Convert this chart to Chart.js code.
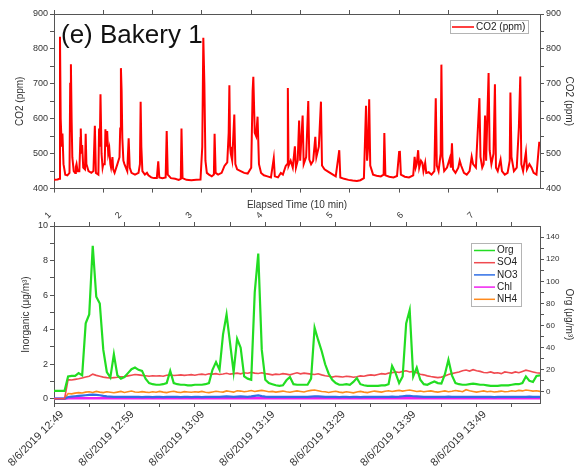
<!DOCTYPE html>
<html>
<head>
<meta charset="utf-8">
<script src="https://cdn.jsdelivr.net/npm/chart.js@4.4.1/dist/chart.umd.min.js"></script>
<style>
  html, body { margin: 0; padding: 0; background: #fff; }
  #wrap { position: relative; width: 576px; height: 472px; overflow: hidden; }
  canvas { position: absolute; left: 0; }
  #co2Chart { top: 0; }
  #aerosolChart { top: 196px; }
</style>
</head>
<body>
<div id="wrap">
  <canvas id="co2Chart" width="576" height="196"></canvas>
  <canvas id="aerosolChart" width="576" height="276"></canvas>
</div>
<script>
// CO2 trace: minutes after 12:49 and concentration (ppm)
const co2Minutes = [
  0, 0.5, 0.75, 0.85, 0.95, 1.1, 1.2, 1.35, 1.6, 1.9,
  2.2, 2.3, 2.4, 2.5, 2.6, 2.8, 3.0, 3.1, 3.2, 3.35,
  3.6, 3.75, 3.8, 3.9, 4.0, 4.15, 4.4, 4.5, 4.6, 4.9,
  5.3, 5.6, 5.8, 5.95, 6.3, 6.4, 6.5, 6.6, 6.75, 6.9,
  7.0, 7.2, 7.3, 7.4, 7.55, 7.7, 7.85, 8.0, 8.1, 8.3,
  8.4, 8.6, 9.0, 9.3, 9.4, 9.5, 9.6, 9.7, 9.85, 10.0,
  10.2, 10.4, 10.6, 10.75, 11.0, 11.5, 12.0, 12.2, 12.3, 12.4,
  12.55, 12.9, 13.2, 13.4, 13.8, 14.2, 14.6, 14.8, 14.95, 15.4,
  15.85, 16.0, 16.15, 16.6, 17.2, 17.7, 18.0, 18.1, 18.25, 18.8,
  19.5, 20.2, 20.8, 21.05, 21.2, 21.35, 21.5, 21.7, 22.0, 22.4,
  22.7, 22.8, 22.95, 23.3, 23.8, 24.2, 24.4, 24.6, 24.8, 24.9,
  25.0, 25.1, 25.3, 25.6, 25.75, 26.0, 26.5, 27.0, 27.5, 28.0,
  28.2, 28.3, 28.5, 28.7, 28.9, 29.1, 29.4, 29.8, 30.3, 30.8,
  31.2, 31.35, 31.8, 32.2, 32.5, 32.9, 33.1, 33.2, 33.3, 33.6,
  33.9, 34.2, 34.35, 34.6, 34.8, 34.95, 35.3, 35.45, 35.8, 36.1,
  36.25, 36.5, 36.8, 37.1, 37.25, 37.6, 37.9, 38.05, 38.4, 38.8,
  39.2, 39.6, 40.0, 40.5, 40.65, 41.2, 41.8, 42.4, 43.0, 43.5,
  44.0, 44.3, 44.45, 44.6, 44.75, 44.9, 45.3, 45.8, 46.4, 46.8,
  46.9, 47.05, 47.6, 48.2, 48.7, 49.0, 49.1, 49.25, 49.8, 50.4,
  51.0, 51.2, 51.35, 51.5, 51.7, 51.85, 52.1, 52.3, 52.45, 52.7,
  52.85, 53.2, 53.6, 54.0, 54.2, 54.35, 54.6, 54.9, 55.0, 55.15,
  55.4, 55.8, 56.2, 56.35, 56.5, 56.65, 57.0, 57.4, 57.6, 57.8,
  58.2, 58.6, 59.0, 59.3, 59.5, 59.9, 60.2, 60.4, 60.55, 60.8,
  61.0, 61.2, 61.35, 61.7, 61.85, 62.1, 62.4, 62.6, 62.75, 63.0,
  63.4, 63.6, 64.0, 64.4, 64.7, 64.8, 64.95, 65.3, 65.7, 66.0,
  66.2, 66.35, 66.6, 67.0, 67.15, 67.5, 67.8, 68.1, 68.5, 68.9
];
const co2Ppm = [
  425, 426, 428, 835, 600, 520, 558, 470, 440, 438,
  445, 700, 756, 600, 490, 450, 445, 462, 470, 450,
  450, 545, 572, 500, 525, 460, 455, 557, 470, 450,
  445, 450, 580, 445, 440, 572, 520, 670, 500, 460,
  470, 470, 570, 520, 565, 500, 515, 470, 460, 490,
  455, 445, 470, 490, 572, 745, 680, 545, 480, 470,
  460, 450, 544, 460, 445, 440, 445, 470, 649, 520,
  450, 440, 445, 438, 432, 430, 430, 478, 432, 430,
  432, 565, 440, 430, 428, 425, 428, 572, 430, 425,
  424, 425, 426, 520, 832, 700, 480, 445, 440, 435,
  440, 557, 445, 440, 445, 465, 470, 475, 560, 696,
  520, 500, 480, 612, 470, 455, 450, 445, 443, 460,
  680, 720, 560, 550, 606, 470, 445, 438, 435, 432,
  487, 435, 432, 445, 440, 465, 470, 688, 465, 480,
  460, 521, 460, 480, 595, 480, 609, 470, 490, 651,
  483, 470, 480, 548, 490, 520, 649, 466, 455, 450,
  445, 440, 435, 510, 432, 428, 425, 423, 422, 424,
  430, 637, 480, 520, 656, 466, 440, 437, 435, 440,
  559, 438, 434, 432, 436, 505, 508, 440, 434, 432,
  438, 491, 460, 470, 510, 460, 480, 474, 450, 474,
  445, 447, 440, 450, 659, 466, 450, 500, 755, 491,
  450, 460, 487, 460, 530, 455, 445, 460, 480, 466,
  445, 440, 450, 491, 470, 460, 580, 659, 491, 460,
  470, 609, 480, 731, 510, 470, 500, 699, 460, 450,
  483, 450, 440, 445, 480, 675, 491, 450, 460, 575,
  721, 470, 450, 505, 455, 470, 460, 445, 440, 534
];

// aerosol species, one value every 30 s from 12:49 (each row = 5 min)
const sampleStep = 0.5;
const orgValues = [
  1, 1, 1, 1, 14, 14.5, 14.5, 17, 15, 62,
  70, 132, 86, 80, 38, 18, 13, 34, 15, 12,
  13.5, 17, 20.5, 22, 20, 19, 12, 8, 7, 6.5,
  6.5, 7, 8, 19, 8, 7, 6.5, 6.5, 6, 6,
  6.5, 6.5, 6.5, 7, 8, 20, 27, 20, 52, 70,
  44, 18, 48, 40, 14, 12, 11, 90, 125, 38,
  11, 8, 7, 6, 5.5, 6, 10.5, 13.5, 7, 6.5,
  6.5, 6.5, 6.5, 12, 58, 47, 37, 25, 16.5, 11,
  8, 6.5, 6.5, 7, 6.5, 9, 12.5, 7, 6, 5.5,
  5.5, 5.5, 5.5, 6, 6, 7, 23.5, 17, 8, 14,
  62, 74, 14, 22, 11, 7, 6.5, 8, 9.5, 8,
  7.5, 16, 29, 15, 8, 7, 6.5, 6.5, 7, 7.5,
  7, 6.5, 6.5, 6, 5.5, 5.5, 5.5, 6, 6, 6,
  6.5, 7, 7, 8, 14, 10, 9, 14.5, 15, 15
];
const so4Values = [
  0, 0, 0, 0, 1.1, 1.08, 1.12, 1.15, 1.2, 1.25,
  1.3, 1.42, 1.35, 1.3, 1.25, 1.22, 1.2, 1.22, 1.24, 1.27,
  1.28, 1.32, 1.36, 1.4, 1.38, 1.35, 1.33, 1.3, 1.33, 1.31,
  1.33, 1.3, 1.36, 1.38, 1.34, 1.36, 1.38, 1.35, 1.37, 1.39,
  1.36, 1.4, 1.42, 1.39, 1.44, 1.42, 1.45, 1.4, 1.43, 1.47,
  1.42, 1.45, 1.48, 1.44, 1.5, 1.47, 1.52, 1.48, 1.46, 1.5,
  1.45, 1.42, 1.38, 1.42, 1.4, 1.45, 1.42, 1.38, 1.45, 1.5,
  1.44, 1.48, 1.45, 1.42, 1.4, 1.44, 1.38, 1.33, 1.3, 1.25,
  1.3, 1.28, 1.26, 1.3, 1.28, 1.24, 1.27, 1.32, 1.3, 1.35,
  1.38, 1.35, 1.4, 1.45, 1.42, 1.48, 1.5, 1.55, 1.52, 1.58,
  1.62, 1.55, 1.58, 1.5, 1.42, 1.38, 1.32, 1.28, 1.25, 1.22,
  1.25, 1.32, 1.4, 1.45, 1.5, 1.55, 1.62, 1.66, 1.6, 1.68,
  1.62, 1.58, 1.52, 1.5, 1.55, 1.48, 1.5, 1.45, 1.55, 1.52,
  1.48, 1.55, 1.5, 1.58, 1.65, 1.6, 1.55, 1.5, 1.48, 1.45
];
const no3Values = [
  0, 0, 0, 0, 0.1, 0.12, 0.14, 0.16, 0.18, 0.2,
  0.22, 0.24, 0.22, 0.2, 0.16, 0.13, 0.12, 0.11, 0.1, 0.1,
  0.11, 0.1, 0.1, 0.11, 0.1, 0.09, 0.1, 0.1, 0.09, 0.1,
  0.1, 0.09, 0.1, 0.11, 0.1, 0.1, 0.09, 0.1, 0.1, 0.09,
  0.1, 0.1, 0.09, 0.1, 0.11, 0.1, 0.1, 0.11, 0.12, 0.13,
  0.12, 0.11, 0.12, 0.13, 0.12, 0.11, 0.13, 0.16, 0.19, 0.15,
  0.12, 0.11, 0.1, 0.1, 0.11, 0.1, 0.1, 0.11, 0.1, 0.1,
  0.1, 0.11, 0.1, 0.12, 0.14, 0.13, 0.12, 0.11, 0.1, 0.1,
  0.1, 0.09, 0.1, 0.1, 0.09, 0.1, 0.1, 0.09, 0.1, 0.1,
  0.1, 0.1, 0.11, 0.1, 0.1, 0.11, 0.12, 0.11, 0.12, 0.14,
  0.16, 0.17, 0.14, 0.13, 0.12, 0.11, 0.1, 0.11, 0.1, 0.1,
  0.1, 0.11, 0.12, 0.11, 0.1, 0.1, 0.11, 0.1, 0.1, 0.11,
  0.1, 0.1, 0.11, 0.1, 0.1, 0.09, 0.1, 0.1, 0.11, 0.1,
  0.1, 0.11, 0.1, 0.1, 0.11, 0.12, 0.11, 0.1, 0.1, 0.1
];
const chlValues = [
  0, 0, 0, 0, 0.02, 0.02, 0.03, 0.03, 0.02, 0.03,
  0.03, 0.02, 0.02, 0.03, 0.02, 0.02, 0.03, 0.02, 0.02, 0.03,
  0.02, 0.02, 0.03, 0.02, 0.02, 0.02, 0.03, 0.02, 0.02, 0.02,
  0.02, 0.03, 0.02, 0.02, 0.02, 0.03, 0.02, 0.02, 0.03, 0.02,
  0.02, 0.02, 0.02, 0.03, 0.02, 0.02, 0.02, 0.03, 0.02, 0.02,
  0.03, 0.02, 0.02, 0.02, 0.03, 0.02, 0.02, 0.03, 0.03, 0.02,
  0.02, 0.02, 0.03, 0.02, 0.02, 0.02, 0.02, 0.03, 0.02, 0.02,
  0.02, 0.03, 0.02, 0.02, 0.03, 0.02, 0.02, 0.02, 0.03, 0.02,
  0.02, 0.02, 0.02, 0.03, 0.02, 0.02, 0.03, 0.02, 0.02, 0.02,
  0.03, 0.02, 0.02, 0.02, 0.02, 0.03, 0.02, 0.02, 0.03, 0.02,
  0.03, 0.03, 0.02, 0.02, 0.02, 0.03, 0.02, 0.02, 0.02, 0.02,
  0.02, 0.03, 0.02, 0.02, 0.03, 0.02, 0.02, 0.02, 0.03, 0.02,
  0.02, 0.02, 0.03, 0.02, 0.02, 0.02, 0.03, 0.02, 0.02, 0.03,
  0.02, 0.02, 0.02, 0.03, 0.02, 0.02, 0.03, 0.02, 0.02, 0.02
];
const nh4Values = [
  0, 0, 0, 0, 0.3, 0.28, 0.32, 0.35, 0.33, 0.38,
  0.4, 0.36, 0.42, 0.38, 0.35, 0.4, 0.37, 0.34, 0.38, 0.42,
  0.36, 0.4, 0.44, 0.39, 0.37, 0.41, 0.38, 0.36, 0.4, 0.37,
  0.42, 0.38, 0.35, 0.4, 0.43, 0.38, 0.36, 0.41, 0.39, 0.37,
  0.4, 0.38, 0.42, 0.37, 0.35, 0.39, 0.43, 0.4, 0.38, 0.45,
  0.42, 0.38, 0.46, 0.44, 0.4, 0.43, 0.47, 0.42, 0.45, 0.48,
  0.44, 0.4, 0.42, 0.38, 0.41, 0.44, 0.4, 0.37, 0.42, 0.45,
  0.42, 0.39, 0.44, 0.48, 0.5, 0.46, 0.42, 0.4, 0.36, 0.4,
  0.43, 0.38, 0.35, 0.4, 0.37, 0.34, 0.39, 0.42, 0.38, 0.35,
  0.4, 0.44, 0.41, 0.38, 0.43, 0.46, 0.42, 0.45, 0.48, 0.44,
  0.47, 0.5, 0.46, 0.42, 0.44, 0.4, 0.43, 0.45, 0.41, 0.38,
  0.42, 0.45, 0.4, 0.43, 0.47, 0.44, 0.4, 0.52, 0.46, 0.42,
  0.38, 0.42, 0.45, 0.4, 0.43, 0.39, 0.41, 0.44, 0.4, 0.42,
  0.46, 0.43, 0.48, 0.45, 0.5, 0.47, 0.44, 0.46, 0.42, 0.44
];

const seriesNames = ['Org', 'SO4', 'NO3', 'Chl', 'NH4'];
const seriesColors = ['#22dd22', '#f04a50', '#2f6ee6', '#f020f0', '#ff8a1c'];
const elapsedLabels = ['1', '2', '3', '4', '5', '6', '7'];
const runDate = '8/6/2019';
const startHour = 12;
const startMinute = 49;

const fontFamily = "'Liberation Sans', Arial, sans-serif";
Chart.defaults.font.family = fontFamily;
Chart.defaults.color = '#333';

const AXIS = '#555';
const tickGrid = { display: true, drawOnChartArea: false, drawTicks: true, tickLength: 4, color: AXIS };
const axisBorder = { display: true, color: AXIS, width: 1 };

function fixSize(prop, px) {
  return scale => { scale[prop] = px; };
}
function keepTicks(lo, hi) {
  return scale => { scale.ticks = scale.ticks.filter(t => t.value >= lo && t.value <= hi); };
}
function clockLabel(min) {
  const total = startMinute + min;
  const h = startHour + Math.floor(total / 60);
  const m = total % 60;
  return runDate + ' ' + h + ':' + String(m).padStart(2, '0');
}

// framed legend drawn inside the plot
const boxLegend = {
  id: 'boxLegend',
  afterDraw(chart, args, opts) {
    const ctx = chart.ctx;
    ctx.save();
    ctx.fillStyle = '#fff';
    ctx.strokeStyle = '#b4b4b4';
    ctx.lineWidth = 1;
    ctx.fillRect(opts.left, opts.top, opts.width, opts.height);
    ctx.strokeRect(opts.left, opts.top, opts.width, opts.height);
    ctx.font = '10px ' + fontFamily;
    ctx.textBaseline = 'middle';
    chart.data.datasets.forEach((ds, i) => {
      const y = opts.firstRow + i * opts.rowHeight;
      ctx.strokeStyle = ds.borderColor;
      ctx.lineWidth = 1.5;
      ctx.beginPath();
      ctx.moveTo(opts.lineFrom, y);
      ctx.lineTo(opts.lineTo, y);
      ctx.stroke();
      ctx.fillStyle = '#222';
      ctx.fillText(ds.label, opts.textAt, y);
    });
    ctx.restore();
  }
};

const panelTag = {
  id: 'panelTag',
  afterDraw(chart, args, opts) {
    if (!opts.text) return;
    const ctx = chart.ctx;
    ctx.save();
    ctx.font = opts.size + 'px ' + fontFamily;
    ctx.fillStyle = '#111';
    ctx.textBaseline = 'alphabetic';
    ctx.fillText(opts.text, opts.x, opts.y);
    ctx.restore();
  }
};

// top panel: CO2
new Chart(document.getElementById('co2Chart'), {
  type: 'line',
  data: {
    datasets: [{
      label: 'CO2 (ppm)',
      data: co2Minutes.map((m, i) => ({ x: m, y: co2Ppm[i] })),
      borderColor: '#ff0000',
      borderWidth: 2,
      pointRadius: 0,
      tension: 0,
      xAxisID: 'x',
      yAxisID: 'y'
    }]
  },
  plugins: [boxLegend, panelTag],
  options: {
    responsive: false,
    animation: false,
    devicePixelRatio: 1,
    layout: { padding: 0 },
    plugins: {
      legend: { display: false },
      tooltip: { enabled: false },
      boxLegend: { left: 450.5, top: 20.5, width: 78, height: 13, firstRow: 27, rowHeight: 12, lineFrom: 452, lineTo: 474, textAt: 476 },
      panelTag: { text: '(e) Bakery 1', size: 26, x: 61, y: 43 }
    },
    scales: {
      x: {
        type: 'linear', position: 'bottom', min: 0, max: 69,
        ticks: { display: false, stepSize: 7, includeBounds: false, autoSkip: false },
        grid: tickGrid, border: axisBorder,
        afterBuildTicks: keepTicks(0, 63),
        afterFit: fixSize('height', 5)
      },
      xTop: {
        type: 'linear', position: 'top', min: 0, max: 69,
        ticks: { display: false, stepSize: 7, includeBounds: false, autoSkip: false },
        grid: tickGrid, border: axisBorder,
        afterBuildTicks: keepTicks(0, 63),
        afterFit: fixSize('height', 14)
      },
      y: {
        type: 'linear', position: 'left', min: 400, max: 900,
        ticks: { stepSize: 50, padding: 2, font: { size: 9 }, callback: v => (v % 100 === 0 ? v : '') },
        grid: tickGrid, border: axisBorder,
        title: { display: true, text: 'CO2 (ppm)', font: { size: 10 }, padding: { top: 14, bottom: 0 } },
        afterFit: fixSize('width', 54)
      },
      yRight: {
        type: 'linear', position: 'right', min: 400, max: 900,
        ticks: { stepSize: 50, padding: 2, font: { size: 9 }, callback: v => (v % 100 === 0 ? v : '') },
        grid: tickGrid, border: axisBorder,
        title: { display: true, text: 'CO2 (ppm)', font: { size: 10 }, padding: { top: 1, bottom: 0 } },
        afterFit: fixSize('width', 36)
      }
    }
  }
});

// bottom panel: aerosol composition
const sampleMinutes = orgValues.map((v, i) => i * sampleStep);
const speciesValues = [orgValues, so4Values, no3Values, chlValues, nh4Values];
const speciesWidths = [2.2, 1.6, 2.2, 2.5, 1.6];

new Chart(document.getElementById('aerosolChart'), {
  type: 'line',
  data: {
    datasets: seriesNames.map((name, k) => ({
      label: name,
      data: sampleMinutes.map((m, i) => ({ x: m, y: speciesValues[k][i] })),
      borderColor: seriesColors[k],
      borderWidth: speciesWidths[k],
      pointRadius: 0,
      tension: 0,
      xAxisID: 'x',
      yAxisID: name === 'Org' ? 'yOrg' : 'y'
    }))
  },
  plugins: [boxLegend],
  options: {
    responsive: false,
    animation: false,
    devicePixelRatio: 1,
    layout: { padding: 0 },
    plugins: {
      legend: { display: false },
      tooltip: { enabled: false },
      boxLegend: { left: 471.5, top: 47.5, width: 50, height: 63, firstRow: 54.5, rowHeight: 12.2, lineFrom: 474, lineTo: 495, textAt: 497 }
    },
    scales: {
      x: {
        type: 'linear', position: 'bottom', min: 0, max: 69,
        ticks: {
          stepSize: 5, includeBounds: false, autoSkip: false,
          minRotation: 45, maxRotation: 45, padding: 1, labelOffset: 8,
          font: { size: 11 },
          callback: v => (v % 10 === 0 ? clockLabel(v) : '')
        },
        grid: tickGrid, border: axisBorder,
        afterBuildTicks: keepTicks(0, 65),
        afterFit: fixSize('height', 69)
      },
      xTop: {
        type: 'linear', position: 'top', min: 0, max: 69,
        ticks: {
          stepSize: 5, includeBounds: false, autoSkip: false,
          minRotation: 45, maxRotation: 45, padding: 1,
          font: { size: 9 },
          callback: v => (v % 10 === 0 ? elapsedLabels[v / 10] : '')
        },
        grid: tickGrid, border: axisBorder,
        title: { display: true, text: 'Elapsed Time (10 min)', font: { size: 10 }, padding: { top: 3, bottom: 0 } },
        afterBuildTicks: keepTicks(0, 65),
        afterFit: fixSize('height', 30)
      },
      y: {
        type: 'linear', position: 'left', min: -0.25, max: 10,
        ticks: { stepSize: 1, includeBounds: false, padding: 2, font: { size: 9 }, callback: v => (v % 2 === 0 ? v : '') },
        grid: tickGrid, border: axisBorder,
        title: { display: true, text: 'Inorganic (μg/m³)', font: { size: 10 }, padding: { top: 20, bottom: 0 } },
        afterBuildTicks: keepTicks(0, 10),
        afterFit: fixSize('width', 54)
      },
      yOrg: {
        type: 'linear', position: 'right', min: -10, max: 150,
        ticks: { stepSize: 10, includeBounds: false, padding: 2, font: { size: 8 }, callback: v => (v % 20 === 0 ? v : '') },
        grid: tickGrid, border: axisBorder,
        title: { display: true, text: 'Org (μg/m³)', font: { size: 10 }, padding: { top: 1, bottom: 0 } },
        afterBuildTicks: keepTicks(0, 140),
        afterFit: fixSize('width', 36)
      }
    }
  }
});
</script>
</body>
</html>
